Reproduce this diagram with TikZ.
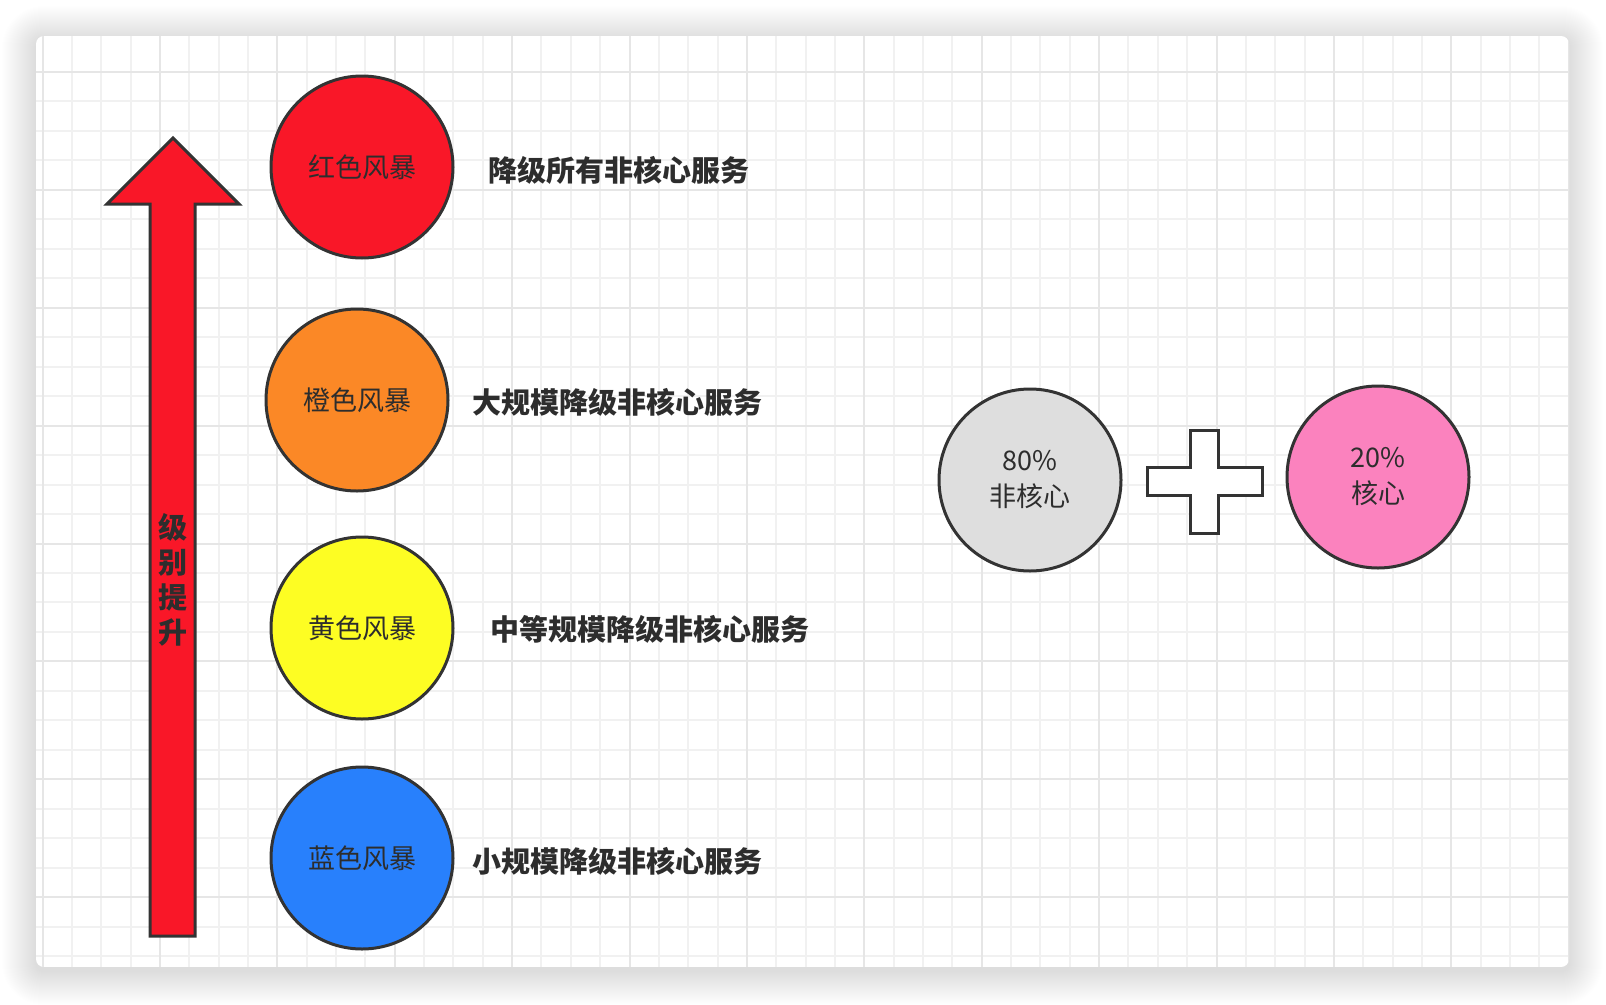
\documentclass[tikz,border=0pt]{standalone}
\usepackage{fontspec}
\setmainfont{Noto Sans CJK SC}
\definecolor{stormred}{RGB}{249,23,40}
\definecolor{stormorange}{RGB}{251,136,38}
\definecolor{stormyellow}{RGB}{253,253,35}
\definecolor{stormblue}{RGB}{40,128,252}
\definecolor{coregray}{RGB}{222,222,222}
\definecolor{corepink}{RGB}{251,130,190}
\definecolor{edgegray}{RGB}{51,51,51}
\definecolor{textgray}{RGB}{45,45,45}
\definecolor{minorline}{RGB}{241,241,241}
\definecolor{majorline}{RGB}{230,230,230}
\begin{document}
\begin{tikzpicture}[x=1pt,y=-1pt,
  storm/.style={circle,draw=edgegray,line width=3pt,minimum size=182pt,inner sep=0pt,
    font=\fontsize{27}{36}\selectfont,text=textgray},
  note/.style={anchor=west,inner sep=0pt,font=\fontsize{29}{34}\selectfont\bfseries,text=textgray},
  minorgrid/.style={minorline,line width=2pt},
  majorgrid/.style={majorline,line width=2pt},
  shapeline/.style={draw=edgegray,line width=3pt}]
\useasboundingbox (0,0) rectangle (1606,1004);
% card shadow
\foreach \r in {1,...,34}
  \fill[black,opacity=.0055,rounded corners={(8+\r)*1pt}] (36-\r,36-\r+4) rectangle (1569+\r,967+\r+4);
% card and grid
\begin{scope}
\clip[rounded corners=8pt] (36,36) rectangle (1569,967);
\fill[white] (36,36) rectangle (1569,967);
\foreach \i in {0,...,52} \draw[minorgrid] ({42.5+29.35*\i},36) -- ({42.5+29.35*\i},967);
\foreach \j in {0,...,30} \draw[minorgrid] (36,{72+29.47*\j}) -- (1569,{72+29.47*\j});
\foreach \i in {0,...,13} \draw[majorgrid] ({42.5+117.4*\i},36) -- ({42.5+117.4*\i},967);
\foreach \j in {0,...,7} \draw[majorgrid] (36,{72+117.88*\j}) -- (1569,{72+117.88*\j});
\end{scope}

% level arrow
\draw[shapeline,fill=stormred] (173,138) -- (239,204) -- (195,204) -- (195,936)
  -- (150,936) -- (150,204) -- (107,204) -- cycle;
\node[align=center,inner sep=0pt,text=textgray,font=\fontsize{29}{35}\selectfont\bfseries]
  (level) at (173,580) {级\\别\\提\\升};

% storms
\path
(362,167) node[storm,fill=stormred]    (red)    {红色风暴}
(357,400) node[storm,fill=stormorange] (orange) {橙色风暴}
(362,628) node[storm,fill=stormyellow] (yellow) {黄色风暴}
(362,858) node[storm,fill=stormblue]   (blue)   {蓝色风暴};

\node[note] (redtxt)    at (488,170) {降级所有非核心服务};
\node[note] (orangetxt) at (472,402) {大规模降级非核心服务};
\node[note] (yellowtxt) at (490,629) {中等规模降级非核心服务};
\node[note] (bluetxt)   at (472,861) {小规模降级非核心服务};

% 80 + 20
\node[storm,fill=coregray,align=center] (noncore) at (1030,480) {80\%\\非核心};
\node[storm,fill=corepink,align=center]  (core)    at (1378,477) {20\%\\核心};
\draw[shapeline,fill=white] (1190,430) -- (1218,430) -- (1218,467) -- (1262,467)
  -- (1262,495) -- (1218,495) -- (1218,533) -- (1190,533) -- (1190,495)
  -- (1147,495) -- (1147,467) -- (1190,467) -- cycle;
\end{tikzpicture}
\end{document}
